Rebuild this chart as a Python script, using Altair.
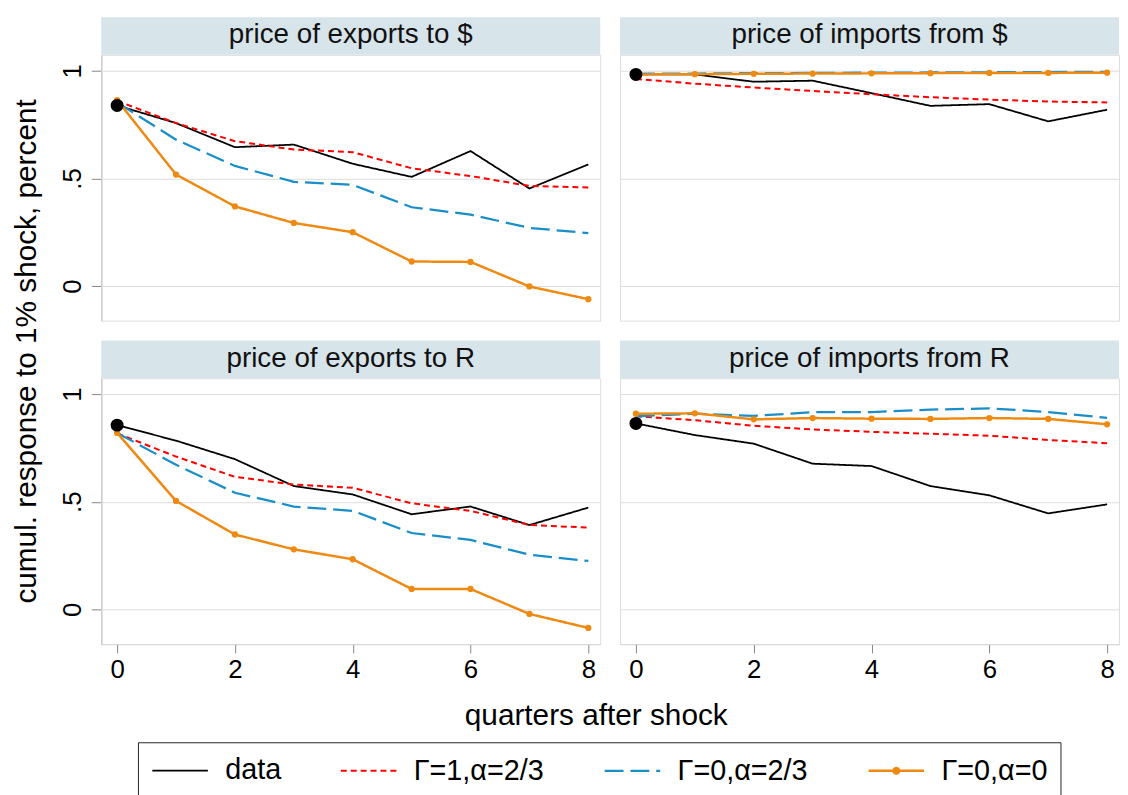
import altair as alt
import pandas as pd

# ---------------- data ----------------
quarters = [0, 1, 2, 3, 4, 5, 6, 7, 8]
series_names = ["data", "Γ=1,α=2/3", "Γ=0,α=2/3", "Γ=0,α=0"]
series_colors = ["#000000", "#ff0000", "#1a8ec8", "#ee8a12"]

panel_titles = ["price of exports to $", "price of imports from $",
                "price of exports to R", "price of imports from R"]
panel_rows = ["$", "$", "R", "R"]
panel_cols = ["exports", "imports", "exports", "imports"]

x_title = "quarters after shock"
y_title = "cumul. response to 1% shock, percent"

# price of exports to $
exp_usd_data = [0.839, 0.757, 0.645, 0.657, 0.568, 0.507, 0.627, 0.453, 0.565]
exp_usd_g1a23 = [0.860, 0.757, 0.673, 0.634, 0.622, 0.547, 0.511, 0.465, 0.458]
exp_usd_g0a23 = [0.853, 0.680, 0.558, 0.484, 0.470, 0.366, 0.332, 0.270, 0.246]
exp_usd_g0a0 = [0.864, 0.518, 0.370, 0.293, 0.250, 0.114, 0.112, -0.002, -0.061]

# price of imports from $
imp_usd_data = [0.983, 0.983, 0.949, 0.954, 0.896, 0.837, 0.845, 0.765, 0.819]
imp_usd_g1a23 = [0.962, 0.940, 0.922, 0.906, 0.891, 0.877, 0.866, 0.857, 0.853]
imp_usd_g0a23 = [0.987, 0.987, 0.989, 0.990, 0.991, 0.992, 0.993, 0.994, 0.995]
imp_usd_g0a0 = [0.983, 0.984, 0.986, 0.987, 0.988, 0.989, 0.990, 0.990, 0.991]

# price of exports to R
exp_r_data = [0.856, 0.784, 0.698, 0.573, 0.534, 0.442, 0.478, 0.392, 0.473]
exp_r_g1a23 = [0.818, 0.710, 0.616, 0.580, 0.565, 0.493, 0.458, 0.392, 0.380]
exp_r_g0a23 = [0.820, 0.672, 0.542, 0.478, 0.458, 0.355, 0.323, 0.254, 0.225]
exp_r_g0a0 = [0.820, 0.504, 0.348, 0.279, 0.233, 0.095, 0.095, -0.021, -0.086]

# price of imports from R
imp_r_data = [0.864, 0.810, 0.770, 0.677, 0.666, 0.573, 0.530, 0.446, 0.488]
imp_r_g1a23 = [0.897, 0.879, 0.853, 0.836, 0.825, 0.816, 0.807, 0.787, 0.772]
imp_r_g0a23 = [0.897, 0.909, 0.899, 0.916, 0.917, 0.928, 0.934, 0.917, 0.890]
imp_r_g0a0 = [0.909, 0.911, 0.883, 0.889, 0.886, 0.885, 0.889, 0.885, 0.860]

panel_values = [
    [exp_usd_data, exp_usd_g1a23, exp_usd_g0a23, exp_usd_g0a0],
    [imp_usd_data, imp_usd_g1a23, imp_usd_g0a23, imp_usd_g0a0],
    [exp_r_data, exp_r_g1a23, exp_r_g0a23, exp_r_g0a0],
    [imp_r_data, imp_r_g1a23, imp_r_g0a23, imp_r_g0a0],
]

records = []
for s_idx, s_name in enumerate(series_names):
    for p_idx, title in enumerate(panel_titles):
        for q, v in zip(quarters, panel_values[p_idx][s_idx]):
            records.append({
                "panel": title, "rowkey": panel_rows[p_idx], "colkey": panel_cols[p_idx],
                "series": s_name, "quarter": q, "value": v,
            })
df = pd.DataFrame(records)

# ---------------- chart ----------------
FONT = "Liberation Sans"
W, H = 503, 268
ORANGE = series_colors[3]

xscale = alt.Scale(domain=[-0.2695, 8.202], nice=False, zero=False)
yscale = alt.Scale(domain=[-0.161, 1.074], nice=False, zero=False)

x_enc = alt.X("quarter:Q", scale=xscale, title=None,
              axis=alt.Axis(values=[0, 2, 4, 6, 8], format="d", grid=False, labelFontSize=26,
                            tickSize=9, labelPadding=4))
y_enc = alt.Y("value:Q", scale=yscale, title=None,
              axis=alt.Axis(values=[0, 0.5, 1], grid=True, labelFontSize=26,
                            labelAngle=270, tickSize=10, labelPadding=6,
                            labelExpr="datum.value == 0.5 ? '.5' : (datum.value == 1 ? '1' : '0')"))

# legend symbols: a 56px line (custom path on a 28px symbol box), orange one with a dot
LINE_PATH = "M-2,0H2"
DOT_PATH = "M-2,0H2M0.2,0A0.2,0.2,0,1,1,-0.2,0A0.2,0.2,0,1,1,0.2,0"
legend_kw = dict(
    title=None, orient="none", legendX=37, legendY=693, direction="horizontal",
    columns=4, strokeColor="#222222", padding=13,
    symbolType=alt.ExprRef(expr="datum.value === 'Γ=0,α=0' ? '" + DOT_PATH + "' : '" + LINE_PATH + "'"),
    symbolFillColor=alt.ExprRef(expr="datum.value === 'Γ=0,α=0' ? '" + ORANGE + "' : 'transparent'"),
    symbolSize=784, symbolOffset=14, symbolStrokeWidth=2.5, labelFontSize=29, labelFont=FONT,
    labelColor="black", labelOffset=30, columnPadding=55,
)

one_per_panel = "datum.quarter == 0 && datum.series == 'data'"
bottom_left_only = one_per_panel + " && datum.rowkey == 'R' && datum.colkey == 'exports'"

header_rect = alt.Chart().mark_rect(color="#d7e4ea").encode(
    x=alt.value(0), x2=alt.value(W), y=alt.value(-38), y2=alt.value(0)
).transform_filter(one_per_panel)

header_text = alt.Chart().mark_text(font=FONT, fontSize=28, baseline="alphabetic",
                                    align="center", color="#111111").encode(
    x=alt.value(W / 2), y=alt.value(-11.5), text="panel:N"
).transform_filter(one_per_panel)

xtitle_text = alt.Chart().mark_text(font=FONT, fontSize=30, baseline="alphabetic",
                                    align="center", color="black", text=x_title).encode(
    x=alt.value(499), y=alt.value(350)
).transform_filter(bottom_left_only)

ytitle_text = alt.Chart().mark_text(font=FONT, fontSize=30, baseline="alphabetic",
                                    align="center", angle=270, color="black",
                                    text=y_title).encode(
    x=alt.value(-66), y=alt.value(-27)
).transform_filter(bottom_left_only)

lines = alt.Chart().mark_line().encode(
    x=x_enc,
    y=y_enc,
    color=alt.Color("series:N", scale=alt.Scale(domain=series_names, range=series_colors),
                    legend=alt.Legend(**legend_kw)),
    strokeDash=alt.StrokeDash("series:N",
                              scale=alt.Scale(domain=series_names,
                                              range=[[1, 0], [6, 4], [19, 7], [1, 0]]),
                              legend=alt.Legend(**legend_kw)),
    strokeWidth=alt.StrokeWidth("series:N",
                                scale=alt.Scale(domain=series_names, range=[1.8, 2.5, 2.5, 1.8]),
                                legend=None),
)

dots = alt.Chart().mark_circle(size=40, opacity=1, color=ORANGE).encode(
    x=alt.X("quarter:Q", scale=xscale),
    y=alt.Y("value:Q", scale=yscale),
).transform_filter("datum.series == 'Γ=0,α=0'")

bigdot = alt.Chart().mark_circle(size=170, opacity=1, color="black").encode(
    x=alt.X("quarter:Q", scale=xscale),
    y=alt.Y("value:Q", scale=yscale),
).transform_filter(one_per_panel)

layered = alt.layer(header_rect, header_text, lines, dots, bigdot, xtitle_text, ytitle_text,
                    data=df).properties(width=W, height=H)

chart = layered.facet(
    row=alt.Row("rowkey:N", sort=["$", "R"], title=None, header=alt.Header(labels=False)),
    column=alt.Column("colkey:N", sort=["exports", "imports"], title=None,
                      header=alt.Header(labels=False)),
    spacing={"row": 58, "column": 20},
    bounds="flush",
).properties(
    padding={"left": 3, "top": 5, "right": 0, "bottom": 0}
).configure_view(
    stroke="transparent"
).configure_axis(
    labelFont=FONT, labelColor="black", domainColor="#222222", domainWidth=1.5,
    tickColor="#222222", tickWidth=1.5, gridColor="#d0d0d0", gridWidth=1,
).configure(background="white")

chart.save("out.html", embed_options={"renderer": "svg", "actions": False})
